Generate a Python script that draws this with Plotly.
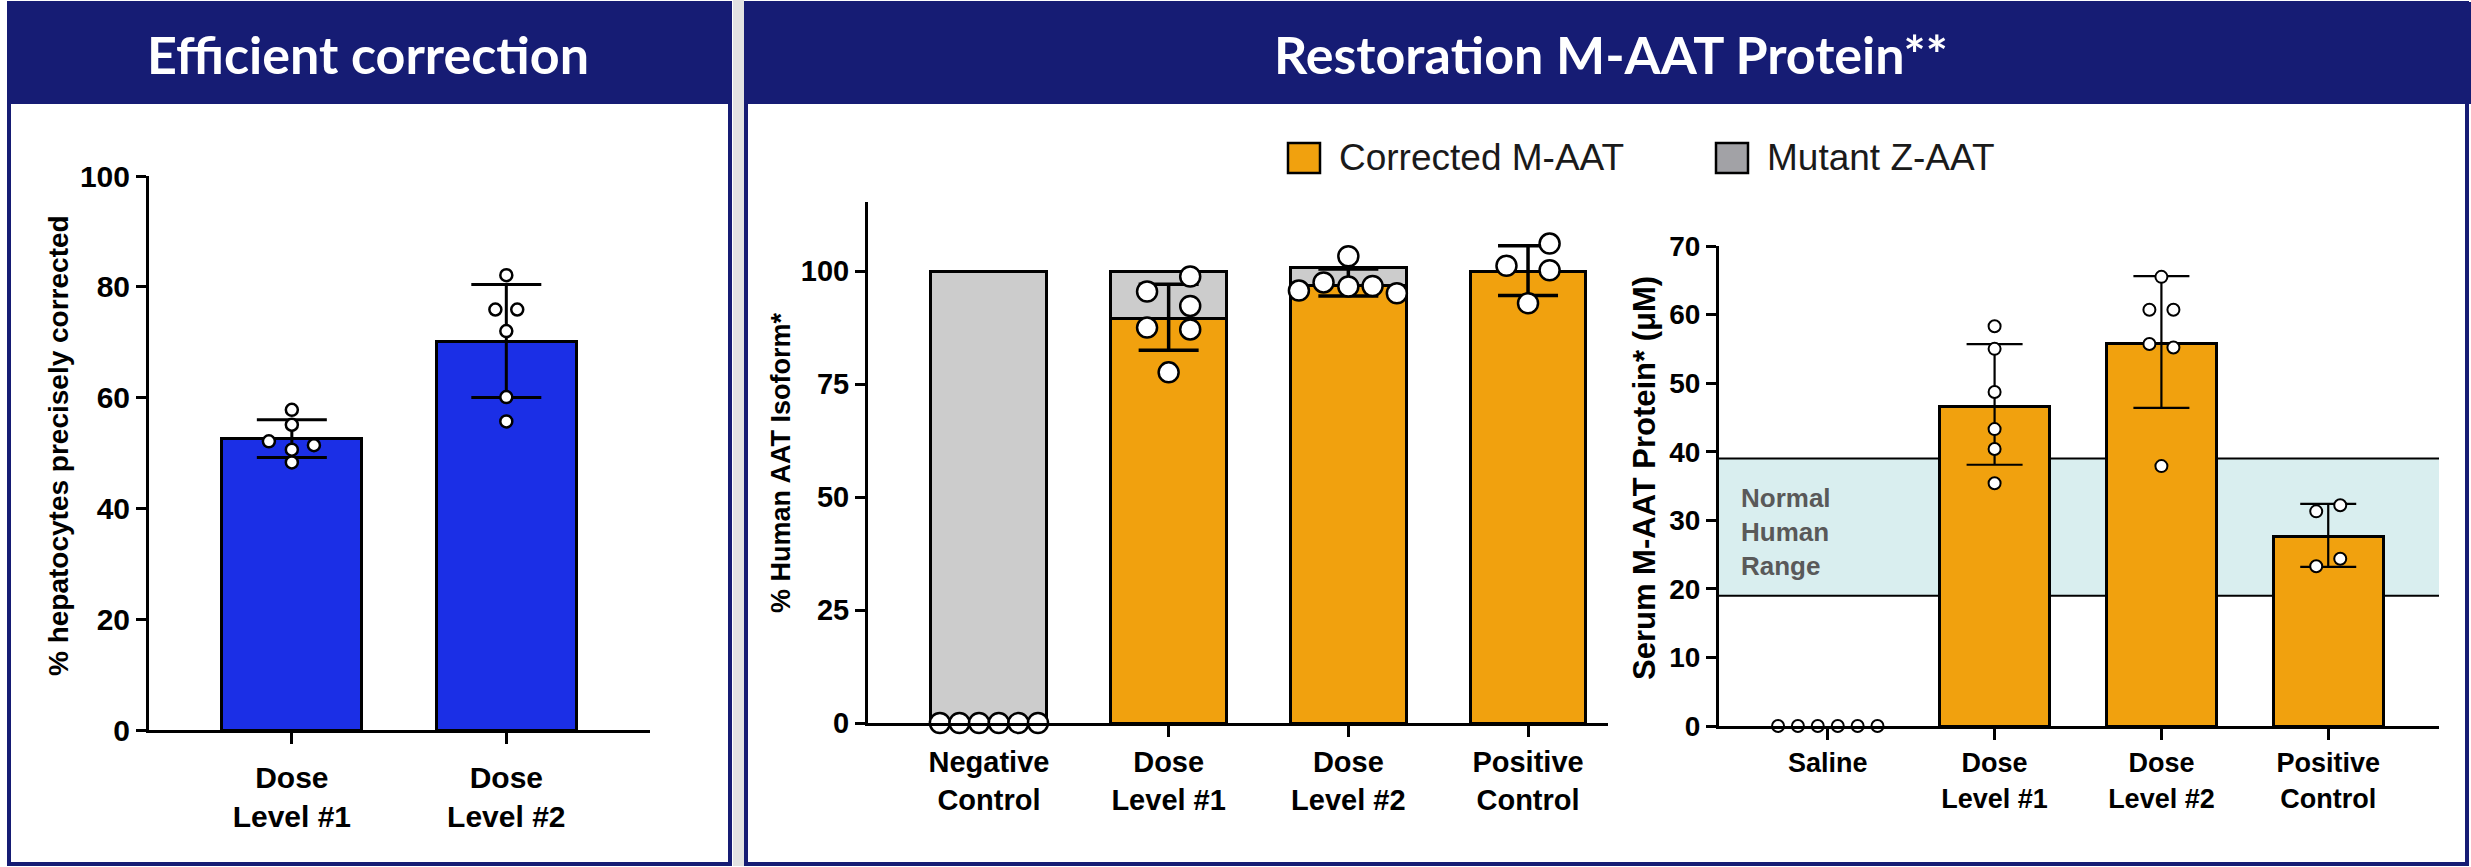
import plotly.graph_objects as go

W, H = 2471, 867

# ---------------- data ----------------
# Panel 1: Efficient correction
p1_categories = ["Dose<br>Level #1", "Dose<br>Level #2"]
p1_bar = [52.6, 70.2]
p1_sd = [3.4, 10.2]
p1_points = [[57.8, 55.1, 52.1, 51.4, 50.6, 48.3],
             [82.1, 75.9, 75.9, 72.0, 60.1, 55.7]]
p1_jitter = [[0, 0, -0.107, 0.103, 0, 0],
             [0, -0.051, 0.051, 0, 0, 0]]

# Panel 2: % Human AAT isoform
p2_categories = ["Negative<br>Control", "Dose<br>Level #1", "Dose<br>Level #2", "Positive<br>Control"]
p2_corrected = [None, 89.6, 96.8, 100.0]
p2_mutant = [100.0, 10.4, 4.0, None]
p2_mean = [None, 89.8, 97.5, 100.1]
p2_sd = [None, 7.3, 3.0, 5.5]
p2_points = [[0, 0, 0, 0, 0, 0],
             [98.8, 95.5, 92.3, 87.5, 87.1, 77.6],
             [103.3, 95.7, 97.5, 96.6, 96.7, 95.1],
             [106.1, 101.2, 100.2, 92.9]]
p2_jitter = [[-0.273, -0.164, -0.055, 0.055, 0.164, 0.273],
             [0.12, -0.12, 0.12, -0.12, 0.12, 0],
             [0, -0.275, -0.138, 0, 0.135, 0.27],
             [0.12, -0.12, 0.12, 0]]

# Panel 3: Serum M-AAT protein
p3_categories = ["Saline", "Dose<br>Level #1", "Dose<br>Level #2", "Positive<br>Control"]
p3_bar = [None, 46.6, 55.8, 27.6]
p3_mean = [None, 46.9, 56.0, 27.8]
p3_sd = [None, 8.8, 9.6, 4.6]
p3_points = [[0, 0, 0, 0, 0, 0],
             [58.3, 55.0, 48.7, 43.3, 40.4, 35.4],
             [65.5, 60.7, 60.7, 55.7, 55.2, 37.9],
             [31.3, 32.2, 23.3, 24.4]]
p3_jitter = [[-0.298, -0.179, -0.06, 0.06, 0.179, 0.298],
             [0, 0, 0, 0, 0, 0],
             [0, -0.072, 0.072, -0.072, 0.072, 0],
             [-0.072, 0.072, -0.072, 0.072]]
normal_range = [19, 39]

# ---------------- style ----------------
NAVY = "#161C74"
BLUE = "#1B2FE6"
ORANGE = "#F1A10E"
GREY = "#CCCCCC"
TICKFONT = "Liberation Sans"
ZWNJ = "\u200c"  # prevents the "ti" ligature in the header font


def px(x):
    return x / W


def py(y):
    return 1 - y / H


fig = go.Figure()


def add_points(groups, jitter, xa, ya, size, lw):
    xs, ys = [], []
    for i, (vals, offs) in enumerate(zip(groups, jitter)):
        for v, o in zip(vals, offs):
            xs.append(i + o)
            ys.append(v)
    fig.add_trace(go.Scatter(x=xs, y=ys, mode="markers", xaxis=xa, yaxis=ya,
                             cliponaxis=False, showlegend=False, hoverinfo="skip",
                             marker=dict(size=size, color="white",
                                         line=dict(color="black", width=lw))))


def add_errors(means, sds, xa, ya, thick, capw):
    xs = [i for i, m in enumerate(means) if m is not None]
    fig.add_trace(go.Scatter(x=xs, y=[means[i] for i in xs], mode="markers",
                             xaxis=xa, yaxis=ya, showlegend=False, cliponaxis=False,
                             hoverinfo="skip",
                             marker=dict(size=1, color="rgba(0,0,0,0)"),
                             error_y=dict(type="data", array=[sds[i] for i in xs],
                                          color="black", thickness=thick, width=capw)))


# Panel 1
fig.add_trace(go.Bar(x=list(range(len(p1_bar))), y=p1_bar, width=0.654, xaxis="x", yaxis="y",
                     marker=dict(color=BLUE, line=dict(color="black", width=3)), showlegend=False))
add_errors(p1_bar, p1_sd, "x", "y", 3, 35)
add_points(p1_points, p1_jitter, "x", "y", 12, 2.5)

# Panel 2 (stacked)
fig.add_trace(go.Bar(x=list(range(4)), y=p2_corrected, width=0.645, xaxis="x2", yaxis="y2",
                     name="Corrected M-AAT",
                     marker=dict(color=ORANGE, line=dict(color="black", width=3)), showlegend=False))
fig.add_trace(go.Bar(x=list(range(4)), y=p2_mutant, width=0.645, xaxis="x2", yaxis="y2",
                     name="Mutant Z-AAT",
                     marker=dict(color=GREY, line=dict(color="black", width=3)), showlegend=False))
add_errors(p2_mean, p2_sd, "x2", "y2", 3.5, 30)
add_points(p2_points, p2_jitter, "x2", "y2", 20, 2.5)
# invisible helper so the overlay axis (Negative Control label, no tick) is drawn
fig.add_trace(go.Scatter(x=[0], y=[0], xaxis="x4", yaxis="y2", mode="markers",
                         marker=dict(size=1, color="rgba(0,0,0,0)"), showlegend=False,
                         hoverinfo="skip"))

# Panel 3
fig.add_trace(go.Bar(x=list(range(4)), y=p3_bar, width=0.657, xaxis="x3", yaxis="y3",
                     marker=dict(color=ORANGE, line=dict(color="black", width=3)), showlegend=False))
add_errors(p3_mean, p3_sd, "x3", "y3", 2.2, 28)
add_points(p3_points, p3_jitter, "x3", "y3", 12, 2)

axis_common = dict(showline=True, linecolor="black", linewidth=3, showgrid=False,
                   zeroline=False, ticks="outside", tickcolor="black", tickwidth=3,
                   fixedrange=True, automargin=False)


def xax(domain, rng, cats, fs, idx=None, standoff=0):
    idx = list(range(len(cats))) if idx is None else idx
    return dict(axis_common, domain=domain, range=rng, tickvals=idx,
                ticktext=[cats[i] for i in idx], ticklen=11, ticklabelstandoff=standoff,
                tickfont=dict(family=TICKFONT, size=fs, color="black", weight="bold"))


def yax(domain, rng, dtick, fs, anchor):
    return dict(axis_common, domain=domain, range=rng, dtick=dtick, ticklen=10,
                anchor=anchor,
                tickfont=dict(family=TICKFONT, size=fs, color="black", weight="bold"))


x2_dom, x2_rng = [px(868), px(1608)], [-0.673, 3.445]
x4 = xax(x2_dom, x2_rng, p2_categories, 29, idx=[0], standoff=2)
x4.update(anchor="y2", overlaying="x2", showline=False, tickcolor="rgba(0,0,0,0)")

fig.update_layout(
    template="none",
    width=W, height=H, autosize=False,
    margin=dict(l=0, r=0, t=0, b=0, pad=0, autoexpand=False),
    paper_bgcolor="white", plot_bgcolor="rgba(0,0,0,0)",
    barmode="stack", showlegend=False, hovermode=False,
    xaxis=dict(xax([px(149), px(650)], [-0.666, 1.67], p1_categories, 30, standoff=8),
               anchor="y"),
    yaxis=yax([py(730), py(176)], [0, 100], 20, 30, "x"),
    xaxis2=dict(xax(x2_dom, x2_rng, p2_categories, 29, idx=[1, 2, 3]), anchor="y2"),
    yaxis2=yax([py(723), py(202)], [0, 115.3], 25, 29, "x2"),
    xaxis3=dict(xax([px(1719), px(2439)], [-0.652, 3.664], p3_categories, 27), anchor="y3"),
    yaxis3=yax([py(726), py(246)], [0, 70], 10, 28, "x3"),
    xaxis4=x4,
)

shapes = []
# panel frames and headers
shapes.append(dict(type="rect", xref="paper", yref="paper", x0=px(733), x1=px(744),
                   y0=py(866), y1=py(0), fillcolor="#E2E2E2", line=dict(width=0), layer="below"))
shapes.append(dict(type="rect", xref="paper", yref="paper", x0=px(9), x1=px(730),
                   y0=py(864), y1=py(3), line=dict(color=NAVY, width=4), layer="below"))
shapes.append(dict(type="rect", xref="paper", yref="paper", x0=px(7), x1=px(732),
                   y0=py(104), y1=py(2), fillcolor=NAVY, line=dict(width=0), layer="below"))
shapes.append(dict(type="rect", xref="paper", yref="paper", x0=px(746), x1=px(2467),
                   y0=py(864), y1=py(3), line=dict(color=NAVY, width=4), layer="below"))
shapes.append(dict(type="rect", xref="paper", yref="paper", x0=px(744), x1=px(2471),
                   y0=py(104), y1=py(2), fillcolor=NAVY, line=dict(width=0), layer="below"))
# normal human range band
shapes.append(dict(type="rect", xref="x3 domain", yref="y3", x0=0, x1=1,
                   y0=normal_range[0], y1=normal_range[1], fillcolor="#D9EEEF",
                   line=dict(width=0), layer="below"))
for v in normal_range:
    shapes.append(dict(type="line", xref="x3 domain", yref="y3", x0=0, x1=1, y0=v, y1=v,
                       line=dict(color="black", width=2), layer="below"))
# legend swatches
shapes.append(dict(type="rect", xref="paper", yref="paper", x0=px(1288), x1=px(1320),
                   y0=py(173), y1=py(143), fillcolor=ORANGE, line=dict(color="black", width=2.5)))
shapes.append(dict(type="rect", xref="paper", yref="paper", x0=px(1716), x1=px(1748),
                   y0=py(173), y1=py(143), fillcolor="#A2A2A6", line=dict(color="black", width=2.5)))
fig.update_layout(shapes=shapes)


def note(text, x, y, font, xanchor="center", yanchor="middle", **kw):
    return dict(text=text, x=px(x), y=py(y), xref="paper", yref="paper",
                xanchor=xanchor, yanchor=yanchor, showarrow=False, font=font, **kw)


ann = [
    note("Efficient correc" + ZWNJ + "tion", 368, 54,
         dict(family="Lato", size=52, color="white", weight="bold")),
    note("Restora" + ZWNJ + "tion M-AAT Protein**", 1611, 54,
         dict(family="Lato", size=52, color="white", weight="bold")),
    note("Corrected M-AAT", 1337, 158,
         dict(family="Liberation Sans", size=37, color="#1a1a1a"), xanchor="left"),
    note("Mutant Z-AAT", 1765, 158,
         dict(family="Liberation Sans", size=37, color="#1a1a1a"), xanchor="left"),
    note("% hepatocytes precisely corrected", 59, 446,
         dict(family=TICKFONT, size=28, color="black", weight="bold"), textangle=-90),
    note("% Human AAT Isoform*", 781, 463,
         dict(family=TICKFONT, size=27, color="black", weight="bold"), textangle=-90),
    note("Serum M-AAT Protein* (μM)", 1644, 478,
         dict(family=TICKFONT, size=31, color="black", weight="bold"), textangle=-90),
    note("Normal<br>Human<br>Range", 1739, 532,
         dict(family=TICKFONT, size=26, color="#595959", weight="bold"),
         xanchor="left", align="left"),
]
fig.update_layout(annotations=ann)

fig.write_html(
    "out.html",
    config={"displayModeBar": False, "staticPlot": True},
    post_script=("var d=document.getElementById('{plot_id}');"
                 "d.style.position='fixed';d.style.top='0px';d.style.left='0px';"
                 "document.body.style.margin='0px';"
                 "document.documentElement.style.overflow='hidden';"),
)
